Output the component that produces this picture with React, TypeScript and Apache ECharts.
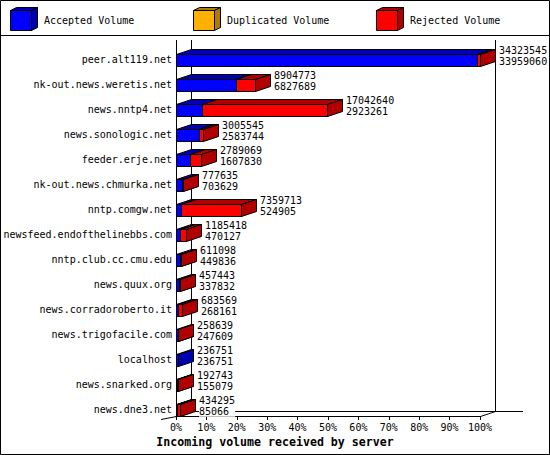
import React, { useEffect, useRef } from "react";
import * as echarts from "echarts";

// Incoming news volume per feeding server (articles bytes), top to bottom.
const servers = [
  "peer.alt119.net",
  "nk-out.news.weretis.net",
  "news.nntp4.net",
  "news.sonologic.net",
  "feeder.erje.net",
  "nk-out.news.chmurka.net",
  "nntp.comgw.net",
  "newsfeed.endofthelinebbs.com",
  "nntp.club.cc.cmu.edu",
  "news.quux.org",
  "news.corradoroberto.it",
  "news.trigofacile.com",
  "localhost",
  "news.snarked.org",
  "news.dne3.net",
];

const totalVolume = [
  34323545, 8904773, 17042640, 3005545, 2789069, 777635, 7359713, 1185418,
  611098, 457443, 683569, 258639, 236751, 192743, 434295,
];

const acceptedVolume = [
  33959060, 6827689, 2923261, 2583744, 1607830, 703629, 524905, 470127,
  449836, 337832, 268161, 247609, 236751, 155079, 85066,
];

const duplicatedVolume = [0, 0, 0, 0, 0, 0, 0, 0, 0, 0, 0, 0, 0, 0, 0];

const rejectedVolume = totalVolume.map(
  (t, i) => t - acceptedVolume[i] - duplicatedVolume[i]
);

const seriesNames = ["Accepted Volume", "Duplicated Volume", "Rejected Volume"];
const frontColors = ["#0000ff", "#ffb000", "#ff0000"];
const shadeColors = ["#0000b0", "#b07c00", "#b00000"];

const axisTitle = "Incoming volume received by server";

// layout
const W = 550;
const H = 455;
const GRID = { left: 176, right: 70, top: 47, bottom: 33 };
const AXIS_LIFT = 6; // front axis sits this far above the grid bottom
const DX = 15; // 3D depth offset
const DY = -5;
const MONO = "DejaVu Sans Mono";

const maxTotal = Math.max(...totalVolume);

function crisp(v: number) {
  return Math.round(v) + 0.5;
}

function buildOption(): echarts.EChartsOption {
  const x0 = GRID.left;
  const x1 = W - GRID.right;
  const yAxisFront = H - GRID.bottom - AXIS_LIFT;
  const yTopWall = 40;
  const line = (x1_: number, y1_: number, x2_: number, y2_: number) => ({
    type: "line",
    z: 0,
    silent: true,
    shape: { x1: x1_, y1: y1_, x2: x2_, y2: y2_ },
    style: { stroke: "#000", lineWidth: 1 },
  });

  const frame: any[] = [
    // outer border and legend separator
    {
      type: "rect",
      z: 0,
      silent: true,
      shape: { x: 0.5, y: 0.5, width: W - 1, height: H - 1 },
      style: { fill: "#fff", stroke: "#000", lineWidth: 1 },
    },
    line(0, 35.5, W, 35.5),
    // front left axis and walls
    line(x0 + 0.5, yTopWall, x0 + 0.5, yAxisFront + 0.5),
    line(x0 + DX + 0.5, yTopWall, x0 + DX + 0.5, yAxisFront + DY + 0.5),
    line(x1 + DX + 0.5, yTopWall, x1 + DX + 0.5, yAxisFront + DY + 0.5),
    line(x0 + DX, yAxisFront + DY + 0.5, x1 + DX + 28, yAxisFront + DY + 0.5),
    line(x1 + 0.5, yAxisFront + 0.5, x1 + DX + 0.5, yAxisFront + DY + 0.5),
    line(x0 - DX, yAxisFront + 3.5, x0 + 0.5, yAxisFront + 0.5),
    {
      type: "text",
      z: 1,
      silent: true,
      x: W / 2,
      y: 442,
      style: {
        text: axisTitle,
        fill: "#000",
        fontFamily: MONO,
        fontWeight: "bold",
        fontSize: 11.6,
        align: "center",
        verticalAlign: "middle",
      },
    },
  ];

  // legend boxes
  seriesNames.forEach((name, k) => {
    const bx = 10 + 183 * k;
    const by = 10;
    const bw = 21;
    const bh = 20;
    const dx = 6;
    const dy = -3;
    const st = (fill: string) => ({ fill, stroke: "#000", lineWidth: 1 });
    frame.push(
      {
        type: "polygon",
        z: 1,
        silent: true,
        shape: {
          points: [
            [bx + 0.5, by + 0.5],
            [bx + bw + 0.5, by + 0.5],
            [bx + bw + dx + 0.5, by + dy + 0.5],
            [bx + dx + 0.5, by + dy + 0.5],
          ],
        },
        style: st(shadeColors[k]),
      },
      {
        type: "polygon",
        z: 1,
        silent: true,
        shape: {
          points: [
            [bx + bw + 0.5, by + 0.5],
            [bx + bw + dx + 0.5, by + dy + 0.5],
            [bx + bw + dx + 0.5, by + bh + dy + 0.5],
            [bx + bw + 0.5, by + bh + 0.5],
          ],
        },
        style: st(shadeColors[k]),
      },
      {
        type: "rect",
        z: 1,
        silent: true,
        shape: { x: bx + 0.5, y: by + 0.5, width: bw, height: bh },
        style: st(frontColors[k]),
      },
      {
        type: "text",
        z: 1,
        silent: true,
        x: bx + 34,
        y: 20,
        style: {
          text: name,
          fill: "#000",
          fontFamily: MONO,
          fontSize: 10,
          align: "left",
          verticalAlign: "middle",
        },
      }
    );
  });

  const data = servers.map((_, i) => [
    i,
    acceptedVolume[i],
    duplicatedVolume[i],
    rejectedVolume[i],
    totalVolume[i],
  ]);

  return {
    animation: false,
    backgroundColor: "#fff",
    grid: {
      left: GRID.left,
      right: GRID.right,
      top: GRID.top,
      bottom: GRID.bottom,
      containLabel: false,
      outerBoundsMode: "none",
    } as any,
    xAxis: {
      type: "value",
      min: 0,
      max: maxTotal,
      interval: maxTotal / 10,
      offset: -AXIS_LIFT,
      axisLine: { show: true, lineStyle: { color: "#000", width: 1 } },
      axisTick: { show: true, length: 4, lineStyle: { color: "#000" } },
      splitLine: { show: false },
      axisLabel: {
        margin: 6,
        color: "#000",
        fontFamily: MONO,
        fontSize: 10,
        formatter: (v: number) => `${Math.round((v / maxTotal) * 100)}%`,
      },
    },
    yAxis: {
      type: "category",
      inverse: true,
      data: servers,
      axisLine: { show: false },
      axisTick: { show: false },
      splitLine: { show: false },
      axisLabel: {
        interval: 0,
        margin: 4,
        color: "#000",
        fontFamily: MONO,
        fontSize: 10,
      },
    },
    graphic: { elements: frame },
    series: [
      {
        type: "custom",
        name: "Incoming volume",
        clip: false,
        z: 2,
        encode: { x: 4, y: 0 },
        data,
        renderItem: (params: any, api: any) => {
          const i = api.value(0) as number;
          const parts = [api.value(1), api.value(2), api.value(3)] as number[];
          const total = api.value(4) as number;
          const cy = api.coord([0, i])[1];
          const band = api.size([0, 1])[1];
          const half = Math.round(band * 0.24);
          const top = crisp(cy - half);
          const bottom = crisp(cy + half);
          const children: any[] = [];
          let start = 0;
          parts.forEach((val, k) => {
            if (!(val > 0)) return;
            const xs = crisp(api.coord([start, i])[0]);
            const xe = crisp(api.coord([start + val, i])[0]);
            start += val;
            const edge = { stroke: "#000", lineWidth: 1, lineJoin: "miter" };
            children.push(
              {
                type: "polygon",
                shape: {
                  points: [
                    [xs, top],
                    [xe, top],
                    [xe + DX, top + DY],
                    [xs + DX, top + DY],
                  ],
                },
                style: { ...edge, fill: shadeColors[k] },
              },
              {
                type: "polygon",
                shape: {
                  points: [
                    [xe, top],
                    [xe + DX, top + DY],
                    [xe + DX, bottom + DY],
                    [xe, bottom],
                  ],
                },
                style: { ...edge, fill: shadeColors[k] },
              },
              {
                type: "rect",
                shape: { x: xs, y: top, width: xe - xs, height: bottom - top },
                style: { ...edge, fill: frontColors[k] },
              }
            );
          });
          const xEnd = Math.round(api.coord([total, i])[0]);
          children.push({
            type: "text",
            x: xEnd + DX + 4,
            y: cy - 3.8,
            style: {
              text: `${total}\n${parts[0]}`,
              fill: "#000",
              fontFamily: MONO,
              fontSize: 10,
              lineHeight: 11,
              align: "left",
              verticalAlign: "middle",
              backgroundColor: "#fff",
            },
          });
          return { type: "group", children };
        },
      } as any,
    ],
  };
}

export default function App() {
  const ref = useRef<HTMLDivElement>(null);

  useEffect(() => {
    if (!ref.current) return;
    const chart = echarts.init(ref.current, undefined, { renderer: "svg" });
    chart.setOption(buildOption());
    return () => chart.dispose();
  }, []);

  return (
    <div
      ref={ref}
      style={{
        position: "fixed",
        left: 0,
        top: 0,
        width: W,
        height: H,
        background: "#fff",
      }}
    />
  );
}
